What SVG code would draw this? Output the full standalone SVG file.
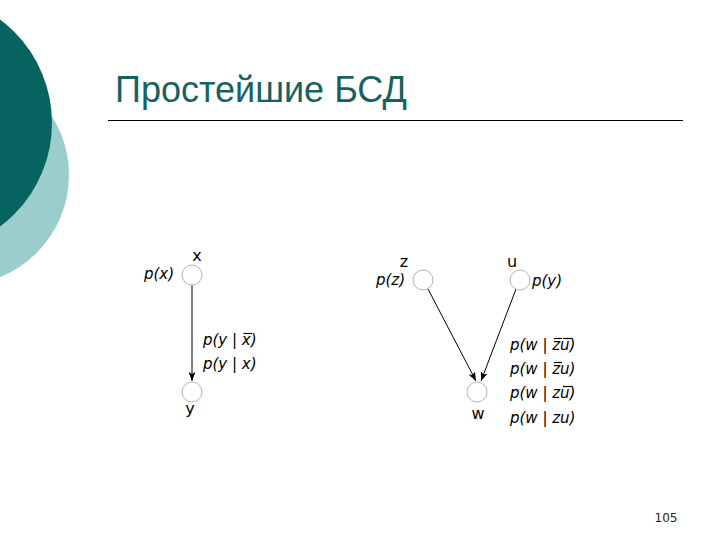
<svg xmlns="http://www.w3.org/2000/svg" width="720" height="540" viewBox="0 0 720 540">
<defs>
<style>
.node{fill:#fff;stroke:#b4b4b4;stroke-width:1}
.lbl{font-family:"DejaVu Sans",Verdana,sans-serif;font-size:16px;fill:#000}
.prob{font-family:"DejaVu Sans",Verdana,sans-serif;font-size:15px;font-style:oblique;fill:#000}
.edge{stroke:#000;stroke-width:1;fill:none;marker-end:url(#arr)}
.ov{stroke:#000;stroke-width:1.2}
</style>
<marker id="arr" markerWidth="10" markerHeight="10" refX="9" refY="5" orient="auto" markerUnits="userSpaceOnUse">
<path d="M0,1.5 L9,5 L0,8.5 L2,5 Z" fill="#000"/>
</marker>
</defs>
<rect width="720" height="540" fill="#fff"/>
<g id="decor">
<circle cx="-41" cy="175" r="110" fill="#9ccdcd"/>
<circle cx="-77" cy="123" r="129" fill="#07635f"/>
</g>
<g id="title">
<text x="115" y="102" font-family="'Liberation Sans',Arial,sans-serif" font-size="36" fill="#17625e">Простейшие БСД</text>
<line x1="108" y1="120.5" x2="683" y2="120.5" stroke="#000" stroke-width="1"/>
</g>
<g id="connectors">
<line class="edge" x1="192" y1="285" x2="192" y2="381"/>
<line class="edge" x1="428" y1="289" x2="476" y2="381"/>
<line class="edge" x1="516" y1="289" x2="481" y2="381"/>
</g>
<g id="node-x">
<circle class="node" cx="192" cy="275" r="10"/>
<text class="lbl" x="197" y="261" text-anchor="middle">x</text>
<text class="prob" x="144" y="279">p(x)</text>
</g>
<g id="node-y">
<circle class="node" cx="192" cy="392" r="10"/>
<text class="lbl" x="190" y="414" text-anchor="middle">y</text>
</g>
<g id="edge-labels-xy">
<text class="prob" x="203" y="345">p(y | x)</text>
<line class="ov" x1="243.5" y1="333.5" x2="252" y2="333.5"/>
<text class="prob" x="203" y="369">p(y | x)</text>
</g>
<g id="node-z">
<circle class="node" cx="423" cy="280" r="10"/>
<text class="lbl" x="404" y="267" text-anchor="middle">z</text>
<text class="prob" x="376" y="285">p(z)</text>
</g>
<g id="node-u">
<circle class="node" cx="520" cy="280" r="10"/>
<text class="lbl" x="512" y="267" text-anchor="middle">u</text>
<text class="prob" x="532" y="286">p(y)</text>
</g>
<g id="node-w">
<circle class="node" cx="477" cy="392" r="10"/>
<text class="lbl" x="478" y="419" text-anchor="middle">w</text>
</g>
<g id="edge-labels-w">
<text class="prob" x="510" y="350">p(w | zu)</text>
<line class="ov" x1="554" y1="338.5" x2="562" y2="338.5"/>
<line class="ov" x1="563" y1="338.5" x2="572" y2="338.5"/>
<text class="prob" x="510" y="374">p(w | zu)</text>
<line class="ov" x1="554" y1="362.5" x2="562" y2="362.5"/>
<text class="prob" x="510" y="398">p(w | zu)</text>
<line class="ov" x1="563" y1="386.5" x2="572" y2="386.5"/>
<text class="prob" x="510" y="423">p(w | zu)</text>
</g>
<g id="page-number">
<text x="666" y="522" text-anchor="middle" font-family="'DejaVu Sans',Verdana,sans-serif" font-size="12" fill="#222">105</text>
</g>
</svg>
